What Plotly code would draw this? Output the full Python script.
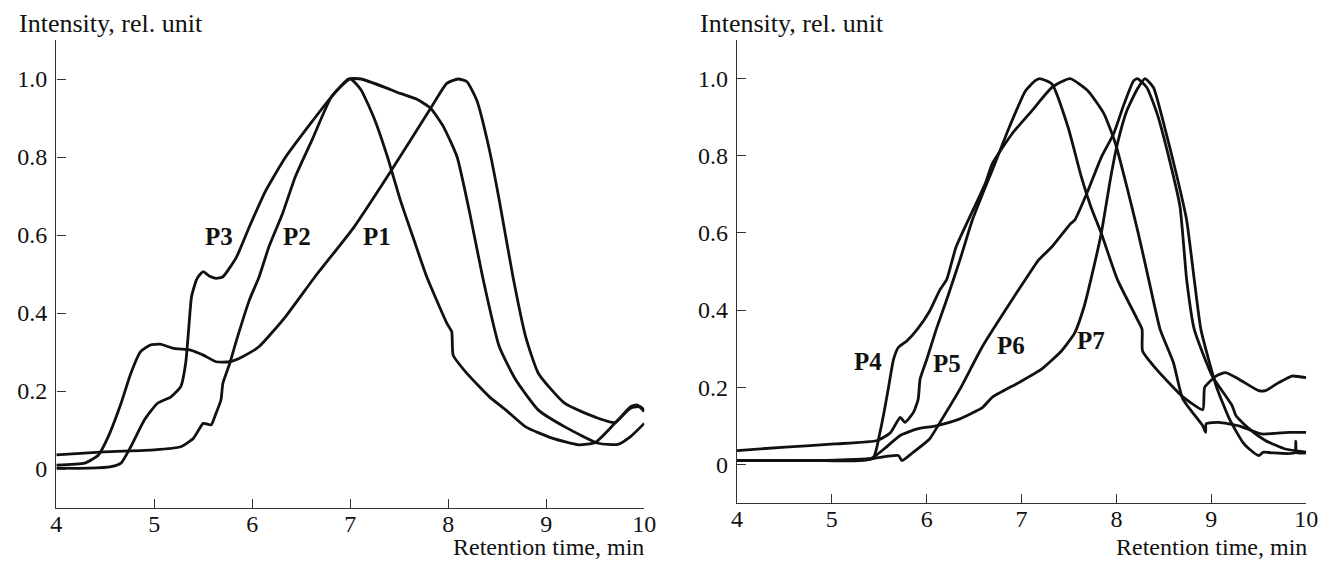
import plotly.graph_objects as go

# ---------------- data (left panel) ----------------
p1_x = [4.0, 4.29, 4.43, 4.53, 4.66, 4.76, 4.86, 4.96, 5.06, 5.20, 5.37, 5.50, 5.63, 5.77, 5.90, 6.07, 6.34, 6.64,
        7.04, 7.41, 7.82, 7.985, 8.10, 8.19, 8.29, 8.42, 8.52, 8.66, 8.79, 8.92, 9.19, 9.53, 9.70, 9.86, 9.93, 10.0]
p1_y = [0.010, 0.015, 0.036, 0.083, 0.168, 0.245, 0.301, 0.318, 0.320, 0.309, 0.305, 0.292, 0.275, 0.275, 0.288,
        0.314, 0.391, 0.493, 0.621, 0.762, 0.925, 0.989, 1.0, 0.993, 0.946, 0.818, 0.690, 0.493, 0.339, 0.245, 0.168,
        0.130, 0.119, 0.160, 0.164, 0.147]

p2_x = [4.0, 4.49, 5.0, 5.27, 5.40, 5.50, 5.58, 5.63, 5.68, 5.70, 5.77, 5.84, 5.97, 6.07, 6.17, 6.31, 6.44, 6.61,
        6.81, 7.0, 7.11, 7.25, 7.38, 7.51, 7.65, 7.78, 7.985, 8.035, 8.05, 8.19, 8.42, 8.59, 8.79, 9.06, 9.33, 9.50,
        9.70, 9.86, 9.96, 10.0]
p2_y = [0.036, 0.044, 0.049, 0.057, 0.079, 0.117, 0.113, 0.143, 0.177, 0.220, 0.271, 0.331, 0.433, 0.493, 0.570,
        0.656, 0.750, 0.844, 0.955, 1.0, 0.972, 0.895, 0.800, 0.690, 0.587, 0.493, 0.374, 0.352, 0.292, 0.245, 0.185,
        0.151, 0.108, 0.079, 0.062, 0.068, 0.117, 0.156, 0.160, 0.150]

p3_x = [4.0, 4.33, 4.56, 4.66, 4.76, 4.90, 5.03, 5.17, 5.27, 5.32, 5.35, 5.38, 5.43, 5.47, 5.50, 5.56, 5.63, 5.70,
        5.84, 5.97, 6.14, 6.34, 6.57, 6.81, 6.98, 7.11, 7.38, 7.51, 7.68, 7.82, 7.95, 8.09, 8.22, 8.35, 8.52, 8.69,
        8.92, 9.19, 9.53, 9.73, 9.86, 10.0]
p3_y = [0.002, 0.002, 0.006, 0.015, 0.057, 0.126, 0.168, 0.185, 0.211, 0.271, 0.356, 0.442, 0.485, 0.500, 0.506,
        0.495, 0.489, 0.493, 0.544, 0.621, 0.715, 0.800, 0.878, 0.955, 1.0, 1.0, 0.976, 0.963, 0.948, 0.925, 0.878,
        0.800, 0.655, 0.493, 0.314, 0.228, 0.151, 0.108, 0.066, 0.063, 0.083, 0.117]

# ---------------- data (right panel) ----------------
p4_x = [4.0, 4.8, 5.43, 5.50, 5.55, 5.60, 5.65, 5.70, 5.79, 5.90, 6.03, 6.14, 6.21, 6.31, 6.52, 6.62, 6.69, 6.90,
        7.11, 7.32, 7.51, 7.70, 7.87, 7.99, 8.11, 8.23, 8.34, 8.46, 8.60, 8.70, 8.91, 8.94, 8.945, 9.08, 9.29, 9.53,
        9.81, 10.0]
p4_y = [0.010, 0.010, 0.015, 0.075, 0.135, 0.204, 0.272, 0.303, 0.320, 0.350, 0.397, 0.453, 0.479, 0.564, 0.676,
        0.730, 0.779, 0.857, 0.917, 0.977, 1.0, 0.968, 0.908, 0.831, 0.719, 0.599, 0.479, 0.350, 0.264, 0.169, 0.100,
        0.083, 0.105, 0.109, 0.100, 0.079, 0.083, 0.083]

p5_x = [4.0, 4.51, 5.03, 5.48, 5.62, 5.72, 5.77, 5.86, 5.91, 5.93, 6.0, 6.10, 6.21, 6.35, 6.48, 6.59, 6.69, 6.87,
        7.04, 7.14, 7.19, 7.32, 7.49, 7.63, 7.73, 7.84, 8.01, 8.22, 8.27, 8.275, 8.42, 8.70, 8.91, 8.93, 9.05, 9.15,
        9.29, 9.50, 9.57, 9.71, 9.85, 10.0]
p5_y = [0.036, 0.045, 0.053, 0.062, 0.083, 0.122, 0.109, 0.135, 0.169, 0.221, 0.272, 0.350, 0.427, 0.530, 0.633,
        0.702, 0.762, 0.874, 0.968, 0.994, 1.0, 0.986, 0.874, 0.745, 0.668, 0.599, 0.479, 0.376, 0.350, 0.294, 0.247,
        0.175, 0.142, 0.200, 0.229, 0.238, 0.221, 0.191, 0.191, 0.212, 0.229, 0.225]

p6_x = [4.0, 4.86, 5.41, 5.70, 5.74, 5.86, 6.03, 6.14, 6.35, 6.59, 6.90, 7.04, 7.18, 7.32, 7.52, 7.56, 7.70, 7.84,
        7.97, 8.08, 8.18, 8.22, 8.32, 8.43, 8.56, 8.67, 8.74, 8.82, 9.01, 9.22, 9.26, 9.40, 9.57, 9.78, 10.0]
p6_y = [0.010, 0.010, 0.015, 0.023, 0.010, 0.032, 0.066, 0.109, 0.195, 0.307, 0.427, 0.479, 0.530, 0.564, 0.625,
        0.633, 0.710, 0.796, 0.857, 0.934, 0.994, 1.0, 0.977, 0.908, 0.788, 0.668, 0.479, 0.350, 0.229, 0.152, 0.126,
        0.092, 0.062, 0.040, 0.032]

p7_x = [4.0, 4.86, 5.41, 5.55, 5.72, 5.90, 6.10, 6.35, 6.59, 6.69, 6.97, 7.21, 7.42, 7.56, 7.66, 7.73, 7.84, 7.94,
        8.01, 8.11, 8.22, 8.30, 8.39, 8.49, 8.63, 8.74, 8.82, 8.89, 9.05, 9.19, 9.33, 9.40, 9.50, 9.55, 9.64, 9.88,
        9.89, 9.90, 10.0]
p7_y = [0.010, 0.010, 0.015, 0.040, 0.075, 0.092, 0.100, 0.118, 0.148, 0.174, 0.212, 0.247, 0.294, 0.341, 0.410,
        0.479, 0.599, 0.745, 0.831, 0.917, 0.973, 1.0, 0.977, 0.891, 0.754, 0.633, 0.479, 0.350, 0.204, 0.118, 0.058,
        0.040, 0.023, 0.032, 0.030, 0.030, 0.060, 0.030, 0.030]

x_ticks = [4, 5, 6, 7, 8, 9, 10]
y_ticks = [0, 0.2, 0.4, 0.6, 0.8, 1.0]
y_ticktext = ["0", "0.2", "0.4", "0.6", "0.8", "1.0"]

left_labels = [("P3", 5.66, 0.596), ("P2", 6.46, 0.596), ("P1", 7.27, 0.596)]
right_labels = [("P4", 5.38, 0.266), ("P5", 6.21, 0.262), ("P6", 6.89, 0.309), ("P7", 7.73, 0.320)]

# ---------------- figure ----------------
W, H = 1333, 561
FONT = "Liberation Serif"
INK = "#111111"

fig = go.Figure()
line = dict(color=INK, width=2.8, shape="spline", smoothing=0.5)
for xs, ys in [(p1_x, p1_y), (p2_x, p2_y), (p3_x, p3_y)]:
    fig.add_trace(go.Scatter(x=xs, y=ys, mode="lines", line=line, xaxis="x", yaxis="y",
                             showlegend=False, hoverinfo="skip"))
for xs, ys in [(p4_x, p4_y), (p5_x, p5_y), (p6_x, p6_y), (p7_x, p7_y)]:
    fig.add_trace(go.Scatter(x=xs, y=ys, mode="lines", line=line, xaxis="x2", yaxis="y2",
                             showlegend=False, hoverinfo="skip"))

def px_x(p):
    return p / W

def px_y(p):
    return (H - p) / H

axis_common = dict(showline=True, linecolor="#333333", linewidth=1.4, ticks="inside", ticklen=9,
                   tickwidth=1.4, tickcolor="#333333", showgrid=False, zeroline=False,
                   tickfont=dict(family=FONT, size=24, color=INK), mirror=False, fixedrange=True)

fig.update_layout(
    width=W, height=H, margin=dict(l=0, r=0, t=0, b=0), autosize=False,
    paper_bgcolor="white", plot_bgcolor="white",
    font=dict(family=FONT, color=INK),
    xaxis=dict(domain=[px_x(51), px_x(647)], range=[4, 10], tickvals=x_ticks, anchor="y",
               ticklabelstandoff=-6, **axis_common),
    yaxis=dict(domain=[px_y(508), px_y(40)], range=[-0.1, 1.1], tickvals=y_ticks, ticktext=y_ticktext,
               anchor="x", ticklabelstandoff=3, **axis_common),
    xaxis2=dict(domain=[px_x(741), px_x(1318)], range=[4, 10], tickvals=x_ticks, anchor="y2",
                ticklabelstandoff=-6, **axis_common),
    yaxis2=dict(domain=[px_y(503), px_y(40)], range=[-0.1, 1.1], tickvals=y_ticks, ticktext=y_ticktext,
                anchor="x2", ticklabelstandoff=3, **axis_common),
)

ann = []
for name, x, y in left_labels:
    ann.append(dict(text="<b>%s</b>" % name, x=x, y=y, xref="x", yref="y", showarrow=False,
                    font=dict(family=FONT, size=25, color=INK), xanchor="center", yanchor="middle"))
for name, x, y in right_labels:
    ann.append(dict(text="<b>%s</b>" % name, x=x, y=y, xref="x2", yref="y2", showarrow=False,
                    font=dict(family=FONT, size=25, color=INK), xanchor="center", yanchor="middle"))

title_font = dict(family=FONT, size=26, color=INK)
for lx in (12, 702):
    ann.append(dict(text="Intensity, rel. unit", x=px_x(lx), y=px_y(23), xref="paper", yref="paper",
                    showarrow=False, xanchor="left", yanchor="middle", font=title_font, borderpad=0))
for rx in (648, 1320):
    ann.append(dict(text="Retention time, min", x=px_x(rx), y=0, xref="paper", yref="paper",
                    showarrow=False, xanchor="right", yanchor="bottom", font=dict(family=FONT, size=24, color=INK),
                    borderpad=0))

fig.update_layout(annotations=ann)
fig.write_html("out.html")
